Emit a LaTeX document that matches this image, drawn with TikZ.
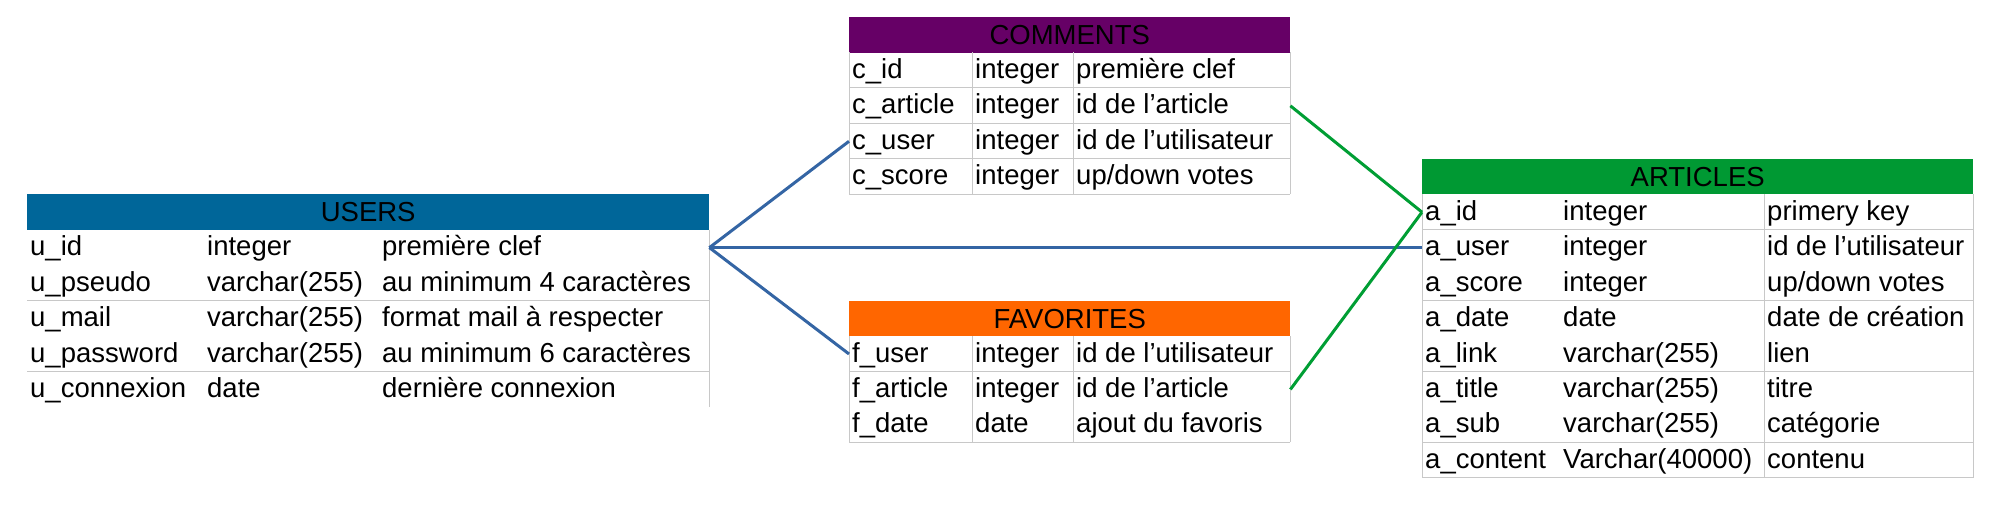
\documentclass[tikz,border=0pt]{standalone}
\usepackage{fontspec}
\setmainfont{Liberation Sans}
\definecolor{usersblue}{RGB}{0,102,153}
\definecolor{commpurple}{RGB}{102,0,102}
\definecolor{favorange}{RGB}{255,102,0}
\definecolor{artgreen}{RGB}{0,153,51}
\definecolor{gridgrey}{RGB}{200,200,200}
\definecolor{linkblue}{RGB}{52,101,164}
\definecolor{linkgreen}{RGB}{0,158,52}
\newcommand{\erow}[9]{%
  \node[rowbox, minimum width=#3] (#1) at (#2,#4) {};
  \node[cell] (#1a) at (#2+3,#4+26) {#7};
  \node[cell] (#1b) at (#5+3,#4+26) {#8};
  \node[cell] (#1c) at (#6+3,#4+26) {#9};
}
\begin{document}
\begin{tikzpicture}[x=1pt,y=-1pt,
  cell/.style={anchor=base west, inner sep=0pt, font=\fontsize{27.5}{30}\selectfont},
  rowbox/.style={anchor=north west, inner sep=0pt, minimum height=35.45pt, draw=none},
  headbox/.style={anchor=north west, inner sep=0pt, minimum height=35.45pt,
    text height=19.5pt, text depth=0pt, font=\fontsize{27.5}{30}\selectfont},
  gridline/.style={draw=gridgrey, line width=1pt},
  blueline/.style={draw=linkblue, line width=3pt},
  greenline/.style={draw=linkgreen, line width=3pt}]
\useasboundingbox (0,0) rectangle (2006,515);

% ---------- USERS ----------
\node[headbox, fill=usersblue, minimum width=682pt] (uhead) at (27,194.25) {USERS};
\draw[gridline] (27,300.6) -- (709,300.6);
\draw[gridline] (27,371.5) -- (709,371.5);
\draw[gridline] (709,229.7) -- (709,406.95);
\erow{u1}{27}{682pt}{229.7}{204}{379}{u\_id}{integer}{première clef}
\erow{u2}{27}{682pt}{265.15}{204}{379}{u\_pseudo}{varchar(255)}{au minimum 4 caractères}
\erow{u3}{27}{682pt}{300.6}{204}{379}{u\_mail}{varchar(255)}{format mail à respecter}
\erow{u4}{27}{682pt}{336.05}{204}{379}{u\_password}{varchar(255)}{au minimum 6 caractères}
\erow{u5}{27}{682pt}{371.5}{204}{379}{u\_connexion}{date}{dernière connexion}

% ---------- COMMENTS ----------
\node[headbox, fill=commpurple, minimum width=441pt] (chead) at (849,17) {COMMENTS};
\foreach \yy in {87.9,123.35,158.8,194.25} \draw[gridline] (849,\yy) -- (1290,\yy);
\foreach \xx in {849,972,1073,1290} \draw[gridline] (\xx,52.45) -- (\xx,194.25);
\erow{c1}{849}{441pt}{52.45}{972}{1073}{c\_id}{integer}{première clef}
\erow{c2}{849}{441pt}{87.9}{972}{1073}{c\_article}{integer}{id de l’article}
\erow{c3}{849}{441pt}{123.35}{972}{1073}{c\_user}{integer}{id de l’utilisateur}
\erow{c4}{849}{441pt}{158.8}{972}{1073}{c\_score}{integer}{up/down votes}

% ---------- FAVORITES ----------
\node[headbox, fill=favorange, minimum width=441pt] (fhead) at (849,300.6) {FAVORITES};
\foreach \yy in {371.5,442.4} \draw[gridline] (849,\yy) -- (1290,\yy);
\foreach \xx in {849,972,1073,1290} \draw[gridline] (\xx,336.05) -- (\xx,442.4);
\erow{f1}{849}{441pt}{336.05}{972}{1073}{f\_user}{integer}{id de l’utilisateur}
\erow{f2}{849}{441pt}{371.5}{972}{1073}{f\_article}{integer}{id de l’article}
\erow{f3}{849}{441pt}{406.95}{972}{1073}{f\_date}{date}{ajout du favoris}

% ---------- ARTICLES ----------
\node[headbox, fill=artgreen, minimum width=551pt] (ahead) at (1422,158.8) {ARTICLES};
\foreach \yy in {229.7,300.6,371.5,442.4,477.85} \draw[gridline] (1422,\yy) -- (1973,\yy);
\foreach \xx in {1422,1764,1973} \draw[gridline] (\xx,194.25) -- (\xx,477.85);
\erow{a1}{1422}{551pt}{194.25}{1560}{1764}{a\_id}{integer}{primery key}
\erow{a2}{1422}{551pt}{229.7}{1560}{1764}{a\_user}{integer}{id de l’utilisateur}
\erow{a3}{1422}{551pt}{265.15}{1560}{1764}{a\_score}{integer}{up/down votes}
\erow{a4}{1422}{551pt}{300.6}{1560}{1764}{a\_date}{date}{date de création}
\erow{a5}{1422}{551pt}{336.05}{1560}{1764}{a\_link}{varchar(255)}{lien}
\erow{a6}{1422}{551pt}{371.5}{1560}{1764}{a\_title}{varchar(255)}{titre}
\erow{a7}{1422}{551pt}{406.95}{1560}{1764}{a\_sub}{varchar(255)}{catégorie}
\erow{a8}{1422}{551pt}{442.4}{1560}{1764}{a\_content}{Varchar(40000)}{contenu}

% ---------- connectors ----------
\draw[blueline] (u1.east) -- (c3.west);
\draw[blueline] (u1.east) -- (a2.west);
\draw[blueline] (u1.east) -- (f1.west);
\draw[greenline] (a1.west) -- (c2.east);
\draw[greenline] (a1.west) -- (f2.east);
\end{tikzpicture}
\end{document}
